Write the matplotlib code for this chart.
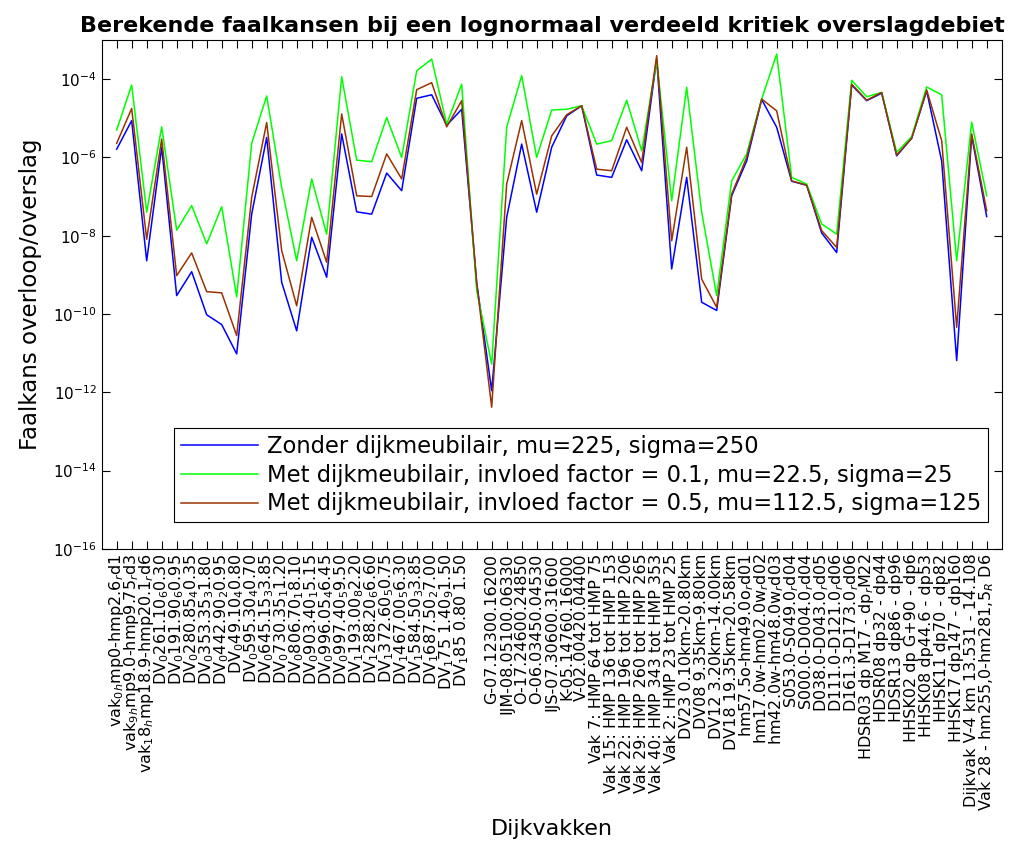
import numpy as np
import matplotlib
matplotlib.use("Agg")
from matplotlib import pyplot as plt

# dijkvak names (MATLAB style underscores -> subscripts)
names = [
    "vak_0_hmp0-hmp2.6_rd1", "vak_9_hmp9.0-hmp9.75_rd3", "vak_18_hmp18.9-hmp20.1_rd6",
    "DV_0261.10_60.30", "DV_0191.90_60.95", "DV_0280.85_40.35", "DV_0353.35_31.80",
    "DV_0442.90_20.95", "DV_049.10_40.80", "DV_0595.30_40.70", "DV_0645.15_33.85",
    "DV_0730.35_11.20", "DV_0806.70_18.10", "DV_0903.40_15.15", "DV_0996.05_46.45",
    "DV_0997.40_59.50", "DV_1193.00_82.20", "DV_1288.20_66.60", "DV_1372.60_50.75",
    "DV_1467.00_56.30", "DV_1584.50_33.85", "DV_1687.50_27.00", "DV_175 1.40_91.50",
    "DV_185 0.80 1.50", "",
    "G-07.12300.16200", "IJM-08.05100.06330", "O-17.24600.24850", "O-06.03450.04530",
    "IJS-07.30600.31600", "K-05.14760.16000", "V-02.00420.04400",
    "Vak 7: HMP 64 tot HMP 75", "Vak 15: HMP 136 tot HMP 153", "Vak 22: HMP 196 tot HMP 206",
    "Vak 29: HMP 260 tot HMP 265", "Vak 40: HMP 343 tot HMP 353", "Vak 2: HMP 23 tot HMP 25",
    "DV23 0.10km-20.80km", "DV08 9.35km-9.80km", "DV12 3.20km-14.00km", "DV18 19.35km-20.58km",
    "hm57.5o-hm49.0o_rd01", "hm17.0w-hm02.0w_rd02", "hm42.0w-hm48.0w_rd03",
    "S053.0-S049.0_rd04", "S000.0-D004.0_rd04", "D038.0-D043.0_rd05",
    "D111.0-D121.0_rd06", "D161.3-D173.0_rd06",
    "HDSR03 dp M17 - dp_rM22", "HDSR08 dp32 - dp44", "HDSR13 dp86 - dp96",
    "HHSK02 dp G+90 - dp6", "HHSK08 dp44.6 - dp53", "HHSK11 dp70 - dp82",
    "HHSK17 dp147 - dp160", "Dijkvak V-4 km 13.531 - 14.108", "Vak 28 - hm255,0-hm281,5_R D6",
]

# log10 of faalkans
log_zonder = [
    -5.79, -5.06, -8.64, -5.74, -9.53, -8.92, -10.02, -10.27, -11.02, -7.45,
    -5.49, -9.19, -10.43, -8.04, -9.06, -5.40, -7.39, -7.45, -6.40, -6.85,
    -4.49, -4.40, -5.18, -4.77, -9.20, -11.96, -7.53, -5.66, -7.40, -5.74,
    -4.94, -4.68, -6.45, -6.51, -5.55, -6.34, -3.49, -8.85, -6.51, -9.70,
    -9.91, -6.98, -6.09, -4.52, -5.23, -6.61, -6.71, -7.93, -8.43, -4.15,
    -4.55, -4.36, -5.96, -5.51, -4.30, -6.09, -11.19, -5.45, -7.51,
]
log_met_01 = [
    -5.30, -4.15, -7.40, -5.22, -7.86, -7.23, -8.21, -7.26, -9.56, -5.64,
    -4.43, -6.77, -8.64, -6.55, -7.96, -3.94, -6.07, -6.11, -4.98, -6.00,
    -3.79, -3.49, -5.15, -4.13, -9.40, -11.28, -5.23, -3.91, -6.00, -4.79,
    -4.77, -4.68, -5.66, -5.57, -4.54, -5.83, -3.53, -7.11, -4.21, -7.40,
    -9.53, -6.60, -5.91, -4.51, -3.36, -6.51, -6.68, -7.70, -7.96, -4.03,
    -4.45, -4.34, -5.87, -5.47, -4.20, -4.40, -8.64, -5.10, -6.98,
]
log_met_05 = [
    -5.64, -4.75, -8.09, -5.53, -9.02, -8.44, -9.43, -9.46, -10.55, -7.02,
    -5.11, -8.38, -9.79, -7.53, -8.68, -4.89, -6.98, -7.00, -5.91, -6.55,
    -4.27, -4.09, -5.22, -4.55, -9.20, -12.38, -6.68, -5.06, -6.94, -5.45,
    -4.91, -4.68, -6.30, -6.34, -5.23, -6.13, -3.40, -8.13, -5.74, -9.11,
    -9.83, -6.94, -6.00, -4.51, -4.81, -6.60, -6.71, -7.87, -8.30, -4.13,
    -4.54, -4.34, -5.94, -5.51, -4.28, -5.57, -10.34, -5.40, -7.36,
]

legend_labels = [
    "Zonder dijkmeubilair, mu=225, sigma=250",
    "Met dijkmeubilair, invloed factor = 0.1, mu=22.5, sigma=25",
    "Met dijkmeubilair, invloed factor = 0.5, mu=112.5, sigma=125",
]


def tex_sub(s):
    # mimic MATLAB tex interpreter: _x makes next char a subscript
    out = ""
    i = 0
    while i < len(s):
        if s[i] == "_" and i + 1 < len(s):
            out += "$_{" + s[i + 1] + "}$"
            i += 2
        else:
            out += s[i]
            i += 1
    return out


x = np.arange(1, len(names) + 1)

fig = plt.figure(figsize=(10.24, 8.47), dpi=100)
ax = fig.add_axes([0.0993, 0.352, 0.8789, 0.6008])

ax.semilogy(x, 10 ** np.array(log_zonder), color=(0, 0, 1), lw=1.1, label=legend_labels[0])
ax.semilogy(x, 10 ** np.array(log_met_01), color=(0, 1, 0), lw=1.1, label=legend_labels[1])
ax.semilogy(x, 10 ** np.array(log_met_05), color=(0.6, 0.2, 0.0), lw=1.1, label=legend_labels[2])

ax.set_xlim(0, len(names) + 1)
ax.set_ylim(1e-16, 1e-3)
ax.set_xticks(x)
ax.set_xticklabels([tex_sub(n) for n in names], rotation=90, fontsize=11.5)
yt = [1e-16, 1e-14, 1e-12, 1e-10, 1e-8, 1e-6, 1e-4]
ax.set_yticks(yt)
ax.set_yticklabels([r"$10^{%d}$" % int(np.log10(v)) for v in yt], fontsize=11)
ax.yaxis.set_minor_locator(matplotlib.ticker.NullLocator())
ax.tick_params(direction="in", top=True, right=True, length=6, width=0.8)

ax.set_title("Berekende faalkansen bij een lognormaal verdeeld kritiek overslagdebiet",
             fontsize=16, fontweight="bold", pad=6, x=0.49)
ax.set_ylabel("Faalkans overloop/overslag", fontsize=16.5, labelpad=8)
ax.set_xlabel("Dijkvakken", fontsize=16, labelpad=6)

leg = ax.legend(loc="lower right", bbox_to_anchor=(0.997, 0.03), fontsize=16.3,
                fancybox=False, framealpha=1, edgecolor="black",
                handlelength=3.4, handletextpad=0.4, borderpad=0.3, labelspacing=0.25)
leg.get_frame().set_linewidth(0.8)

fig.savefig("out.png", dpi=100)
